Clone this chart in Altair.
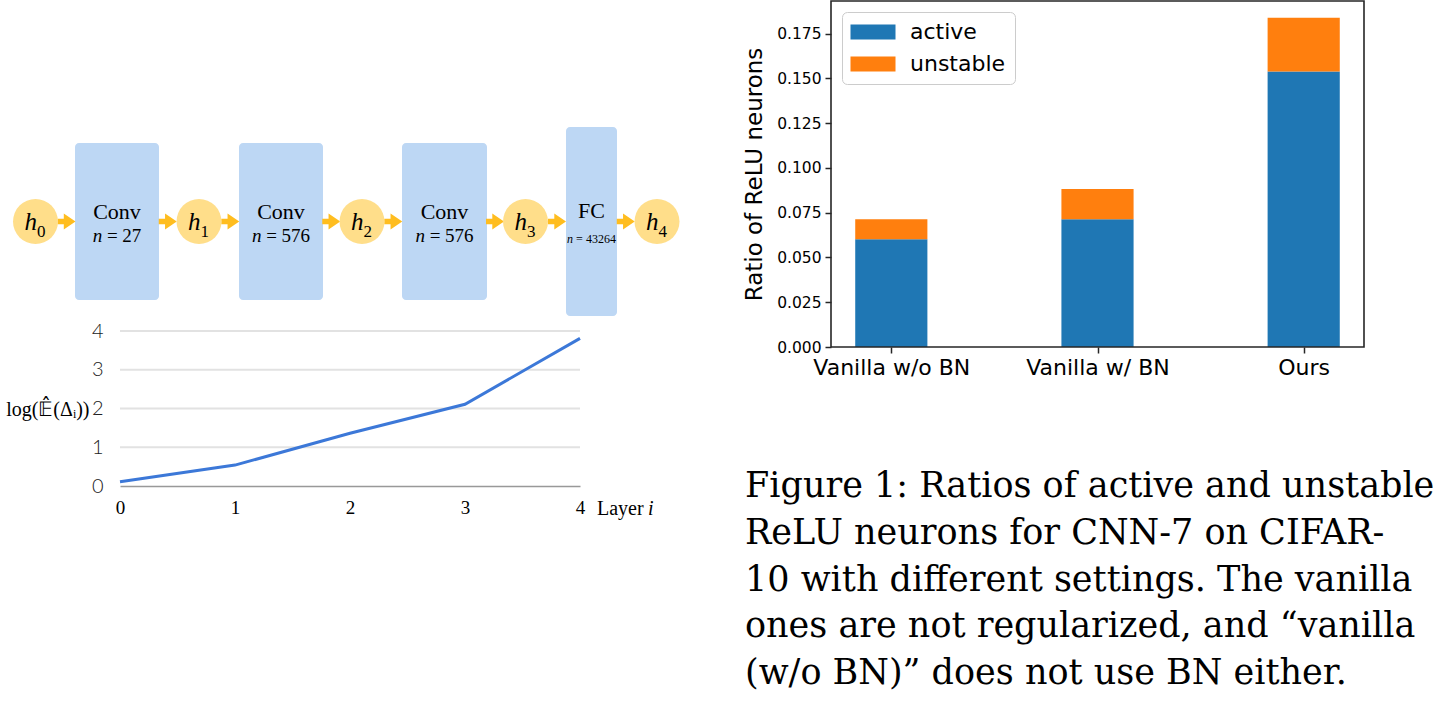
import altair as alt
import pandas as pd

# ---------------- data ----------------
# network diagram (layout in diagram units)
node_label = ["h", "h", "h", "h", "h"]
node_sub = ["0", "1", "2", "3", "4"]
node_x = [35.5, 199, 362, 525.5, 657]
node_y = 221.5
node_r = 22.5
box_x0 = [75, 239, 402, 566]
box_x1 = [159, 323, 487, 617]
box_y0 = [143, 143, 143, 127]
box_y1 = [300, 300, 300, 316]
box_title = ["Conv", "Conv", "Conv", "FC"]
box_n = ["27", "576", "576", "43264"]
box_n_size = [19, 19, 19, 12]

# line chart
layer_i = [0, 1, 2, 3, 4]
log_delta = [0.11, 0.54, 1.36, 2.11, 3.81]
grid_vals = [1, 2, 3, 4]

# bar chart
methods = ["Vanilla w/o BN", "Vanilla w/ BN", "Ours"]
active = [0.0601, 0.0713, 0.1539]
unstable = [0.0112, 0.0169, 0.0300]
y_ticks = [0.0, 0.025, 0.05, 0.075, 0.1, 0.125, 0.15, 0.175]

caption_lines = [
    "Figure 1: Ratios of active and unstable",
    "ReLU neurons for CNN-7 on CIFAR-",
    "10 with different settings. The vanilla",
    "ones are not regularized, and \u201cvanilla",
    "(w/o BN)\u201d does not use BN either.",
]

# ---------------- diagram ----------------
DX = alt.Scale(domain=[0, 700], range=[0, 700], nice=False, zero=False)
DY = alt.Scale(domain=[0, 706], range=[0, 706], nice=False, zero=False)

boxes = pd.DataFrame({"x0": box_x0, "x1": box_x1, "y0": box_y0, "y1": box_y1,
                      "title": box_title, "n": box_n, "fs": box_n_size})
boxes["cx"] = (boxes.x0 + boxes.x1) / 2

# widths (Times metrics) to place italic n and the rest of "n = ..."
def tw(s):
    w = {" ": 0.25, "=": 0.564, "n": 0.5}
    return sum(w.get(c, 0.5) for c in s)

boxes["full_w"] = [tw("n = " + n) * fs for n, fs in zip(box_n, box_n_size)]
boxes["nx"] = boxes.cx - boxes.full_w / 2
boxes["rest"] = ["= " + n for n in box_n]
boxes["rx"] = boxes.nx + 0.75 * boxes.fs
boxes["ny"] = [242, 242, 242, 243]
boxes["ty"] = [219, 219, 219, 218]

nodes = pd.DataFrame({"x": node_x, "y": node_y, "h": node_label, "s": node_sub})

arrow_c = []
for i in range(4):
    arrow_c.append(((node_x[i] + node_r) + box_x0[i]) / 2)
    arrow_c.append((box_x1[i] + (node_x[i + 1] - node_r)) / 2)
arrows = pd.DataFrame({"x": arrow_c, "y": node_y})

ARROW = "M-1,-0.3L-0.3,-0.3L-0.3,-0.9L1,0L-0.3,0.9L-0.3,0.3L-1,0.3Z"

def dxy(ch_x, ch_y):
    return dict(x=alt.X(ch_x, scale=DX, axis=None), y=alt.Y(ch_y, scale=DY, axis=None))

base_b = alt.Chart(boxes)
rects = base_b.mark_rect(cornerRadius=4, color="#BDD7F4").encode(
    x=alt.X("x0:Q", scale=DX, axis=None), x2="x1:Q",
    y=alt.Y("y0:Q", scale=DY, axis=None), y2="y1:Q")
titles = base_b.mark_text(font="Liberation Serif", fontSize=22, baseline="alphabetic",
                          align="center", color="black").encode(
    text="title:N", **dxy("cx:Q", "ty:Q"))
n_it = base_b.mark_text(font="Liberation Serif", fontStyle="italic", baseline="alphabetic",
                        align="left", color="black").encode(
    text=alt.value("n"), size=alt.Size("fs:Q", scale=None, legend=None), **dxy("nx:Q", "ny:Q"))
n_rest = base_b.mark_text(font="Liberation Serif", baseline="alphabetic",
                          align="left", color="black").encode(
    text="rest:N", size=alt.Size("fs:Q", scale=None, legend=None), **dxy("rx:Q", "ny:Q"))

# Vega circle symbol: diameter = sqrt(size)
circles = alt.Chart(nodes).mark_circle(size=(2 * node_r) ** 2, color="#FFDE8A", opacity=1).encode(
    **dxy("x:Q", "y:Q"))
h_txt = alt.Chart(nodes).mark_text(font="Liberation Serif", fontStyle="italic", fontSize=25,
                                   baseline="alphabetic", align="right", dx=1.5, dy=8.5,
                                   color="black").encode(text="h:N", **dxy("x:Q", "y:Q"))
s_txt = alt.Chart(nodes).mark_text(font="Liberation Serif", fontSize=17,
                                   baseline="alphabetic", align="left", dx=1.5, dy=15.5,
                                   color="black").encode(text="s:N", **dxy("x:Q", "y:Q"))
arrow_m = alt.Chart(arrows).mark_point(shape=ARROW, size=324, filled=True, color="#FFBD1F",
                                       opacity=1, strokeWidth=0).encode(**dxy("x:Q", "y:Q"))

xlab = pd.DataFrame({"t": ["Layer", "i"], "x": [597, 648], "y": [515, 515], "st": ["normal", "italic"]})
xlab_a = alt.Chart(xlab[xlab.st == "normal"]).mark_text(font="Liberation Serif", fontSize=20,
    baseline="alphabetic", align="left", color="black").encode(text="t:N", **dxy("x:Q", "y:Q"))
xlab_b = alt.Chart(xlab[xlab.st == "italic"]).mark_text(font="Liberation Serif", fontSize=20,
    fontStyle="italic", baseline="alphabetic", align="left", color="black").encode(
    text="t:N", **dxy("x:Q", "y:Q"))

diagram = alt.layer(rects, arrow_m, circles, titles, n_it, n_rest, h_txt, s_txt, xlab_a, xlab_b)

# ---------------- line chart ----------------
LX = alt.Scale(domain=[0, 4], range=[120, 580], nice=False, zero=False)
LY = alt.Scale(domain=[0, 4], range=[486, 331], nice=False, zero=False)
ldf = pd.DataFrame({"i": layer_i, "v": log_delta})
gdf = pd.DataFrame({"g": grid_vals, "a": 0, "b": 4})

LX_AXIS = alt.Axis(
    orient="bottom", offset=-220, values=layer_i, format="d", grid=False, ticks=False,
    domain=True, domainColor="#999999", domainWidth=1.5, labelFlush=False,
    labelFont="Liberation Serif", labelFontSize=19, labelColor="black", labelPadding=12,
    title=None)
LY_AXIS = alt.Axis(
    orient="left", offset=-120, values=[0, 1, 2, 3, 4], format="d", grid=False, ticks=False,
    domain=False, labelFlush=False, labelFont="Lato", labelFontWeight=300, labelFontSize=20,
    labelColor="#222222", labelPadding=17,
    title="log(\U0001D53C\u0302(\u0394\u1D62))", titleAngle=0, titleAlign="right",
    titleBaseline="middle", titleX=-31, titleY=409, titleFont="Liberation Serif",
    titleFontSize=20, titleFontWeight="normal", titleColor="black")

grid = alt.Chart(gdf).mark_rule(color="#E2E2E2", strokeWidth=2).encode(
    x=alt.X("a:Q", scale=LX, axis=LX_AXIS), x2="b:Q",
    y=alt.Y("g:Q", scale=LY, axis=LY_AXIS))
line = alt.Chart(ldf).mark_line(color="#3C78D8", strokeWidth=3).encode(
    x=alt.X("i:Q", scale=LX, axis=LX_AXIS),
    y=alt.Y("v:Q", scale=LY, axis=LY_AXIS))
linechart = alt.layer(grid, line)

# ---------------- bar chart ----------------
BX = alt.Scale(domain=[-0.2925, 2.2925], range=[831, 1364], nice=False, zero=False)
BY = alt.Scale(domain=[0, 0.1932], range=[347, 1], nice=False, zero=False)
rows = []
for k, m in enumerate(methods):
    rows.append({"m": m, "p": k, "series": "active", "lo": 0.0, "hi": active[k]})
    rows.append({"m": m, "p": k, "series": "unstable", "lo": active[k], "hi": active[k] + unstable[k]})
bdf = pd.DataFrame(rows)
bar_w = 0.35
bdf["xl"] = bdf.p - bar_w / 2
bdf["xr"] = bdf.p + bar_w / 2

label_expr = "[" + ",".join("'%s'" % m for m in methods) + "][datum.value]"
BX_AXIS = alt.Axis(
    orient="bottom", offset=-359, values=[0, 1, 2], labelExpr=label_expr, grid=False,
    domain=False, ticks=True, tickSize=6, tickColor="#262626", tickWidth=1.5, labelFlush=False,
    labelFont="DejaVu Sans", labelFontSize=22, labelColor="black", labelPadding=4,
    title=None)
BY_AXIS = alt.Axis(
    orient="left", offset=-831, values=y_ticks, format=".3f", grid=False, domain=False,
    ticks=True, tickSize=6, tickColor="#262626", tickWidth=1.5, labelFlush=False,
    labelFont="DejaVu Sans", labelFontSize=15.5, labelColor="black", labelPadding=4,
    title="Ratio of ReLU neurons", titleFont="DejaVu Sans", titleFontSize=23,
    titleFontWeight="normal", titleColor="black", titlePadding=10)

bars = alt.Chart(bdf).mark_rect().encode(
    x=alt.X("xl:Q", scale=BX, axis=BX_AXIS),
    x2="xr:Q",
    y=alt.Y("lo:Q", scale=BY, axis=BY_AXIS),
    y2="hi:Q",
    color=alt.Color("series:N", scale=alt.Scale(domain=["active", "unstable"],
                                                range=["#1f77b4", "#ff7f0e"]),
                    legend=alt.Legend(orient="none", legendX=842, legendY=12, title=None,
                                      symbolType="M-3,-1H3V1H-3Z", symbolSize=225,
                                      symbolStrokeWidth=0, symbolOpacity=1, symbolOffset=11,
                                      labelOffset=26, labelFont="DejaVu Sans", labelFontSize=22,
                                      labelColor="black", labelLimit=300, padding=9,
                                      rowPadding=10, strokeColor="#cccccc", fillColor="white",
                                      cornerRadius=5)))
fdf = pd.DataFrame({"a": [BX.domain[0]], "b": [BX.domain[1]], "c": [BY.domain[0]], "d": [BY.domain[1]]})
frame = alt.Chart(fdf).mark_rect(fillOpacity=0, stroke="#262626", strokeWidth=1.6).encode(
    x=alt.X("a:Q", scale=BX, axis=BX_AXIS), x2="b:Q",
    y=alt.Y("c:Q", scale=BY, axis=BY_AXIS), y2="d:Q")
barchart = alt.layer(bars, frame)

# ---------------- caption ----------------
CY = alt.Scale(domain=[0, 4], range=[497, 684], nice=False, zero=False)
cdf = pd.DataFrame({"k": list(range(len(caption_lines))), "t": caption_lines})
caption = alt.Chart(cdf).mark_text(font="DejaVu Serif", fontSize=35, align="left",
                                   baseline="alphabetic", color="black").encode(
    x=alt.value(745), y=alt.Y("k:Q", scale=CY, axis=None), text="t:N")

chart = alt.layer(diagram, linechart, barchart, caption).resolve_scale(
    x="independent", y="independent").resolve_axis(x="independent", y="independent").properties(
    width=1433, height=706, autosize="none", padding=0, background="white"
).configure_view(strokeWidth=0)

chart.save("out.html", embed_options={"renderer": "svg", "actions": False})
